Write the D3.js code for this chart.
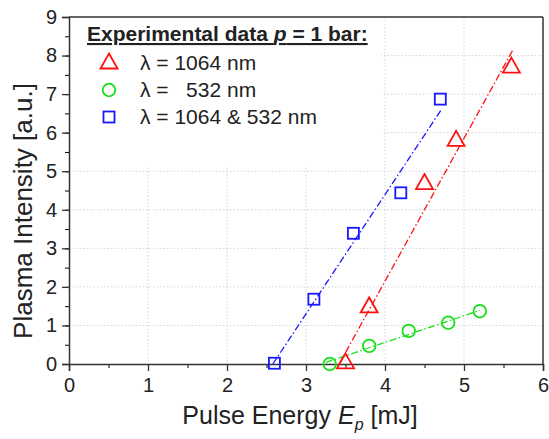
<!DOCTYPE html>
<html>
<head>
<meta charset="utf-8">
<script src="https://cdn.jsdelivr.net/npm/d3@7"></script>
<style>
    body { margin: 0; background: #fff; }
    svg { font-family: "Liberation Sans", Arial, sans-serif; }
</style>
</head>
<body>
<div id="chart"></div>
<script>
// data
const xTicks = [0, 1, 2, 3, 4, 5, 6];
const yTicks = [0, 1, 2, 3, 4, 5, 6, 7, 8, 9];

const energy1064 = [3.5, 3.8, 4.5, 4.9, 5.6];
const intensity1064 = [0.03, 1.48, 4.68, 5.8, 7.7];
const energy532 = [3.3, 3.8, 4.3, 4.8, 5.2];
const intensity532 = [0.0, 0.47, 0.86, 1.07, 1.37];
const energyBoth = [2.6, 3.1, 3.6, 4.2, 4.7];
const intensityBoth = [0.02, 1.68, 3.39, 4.44, 6.87];

// linear fit endpoints (as drawn in the picture)
const fit1064 = [[3.42, 0], [5.62, 8.15]];
const fit532 = [[3.25, 0.04], [5.2, 1.39]];
const fitBoth = [[2.58, 0], [4.72, 6.62]];

const seriesNames = ['λ = 1064 nm', 'λ =   532 nm', 'λ = 1064 & 532 nm'];
const seriesColors = ['#ff1010', '#18e018', '#1818ff'];
const seriesShapes = ['triangle', 'circle', 'square'];

let width = 549,
    height = 439,
    margin = {top: 17, right: 6, bottom: 75, left: 69};

let chartWidth = width - margin.left - margin.right,
    chartHeight = height - margin.top - margin.bottom;

let svg = d3.select('#chart').append('svg')
    .attr('width', width)
    .attr('height', height);

let g = svg.append('g')
    .attr('transform', `translate(${margin.left}, ${margin.top})`);

let scaleX = d3.scaleLinear().domain([0, 6]).range([0, chartWidth]);
let scaleY = d3.scaleLinear().domain([0, 9]).range([chartHeight, 0]);

// gridlines
g.append('g')
    .selectAll('line')
    .data(xTicks.slice(1, -1))
    .enter()
    .append('line')
    .attr('x1', (d) => scaleX(d)).attr('x2', (d) => scaleX(d))
    .attr('y1', 0).attr('y2', chartHeight)
    .attr('stroke', '#d4d4d4').attr('stroke-dasharray', '1.5,2');

g.append('g')
    .selectAll('line')
    .data(yTicks.slice(1, -1))
    .enter()
    .append('line')
    .attr('y1', (d) => scaleY(d)).attr('y2', (d) => scaleY(d))
    .attr('x1', 0).attr('x2', chartWidth)
    .attr('stroke', '#d4d4d4').attr('stroke-dasharray', '1.5,2');

// legend background hides the grid behind it
g.append('rect')
    .attr('x', 1).attr('y', 1)
    .attr('width', 311).attr('height', 148)
    .attr('fill', '#fff');

// axes: minor ticks first, then majors with labels
let minorX = d3.range(0, 6.01, 0.5), minorY = d3.range(0, 9.01, 0.5);

g.append('g')
    .attr('transform', `translate(0, ${chartHeight})`)
    .call(d3.axisBottom(scaleX).tickValues(minorX).tickSize(4).tickFormat(''))
    .call((a) => a.select('.domain').remove());
g.append('g')
    .call(d3.axisLeft(scaleY).tickValues(minorY).tickSize(4).tickFormat(''))
    .call((a) => a.select('.domain').remove());

let xAxis = g.append('g')
    .attr('transform', `translate(0, ${chartHeight})`)
    .call(d3.axisBottom(scaleX).tickValues(xTicks).tickSize(7).tickPadding(7).tickFormat(d3.format('d')));
let yAxis = g.append('g')
    .call(d3.axisLeft(scaleY).tickValues(yTicks).tickSize(7).tickPadding(5).tickFormat(d3.format('d')));

[xAxis, yAxis].forEach((a) => {
    a.selectAll('text').attr('font-size', 20).attr('fill', '#222')
        .attr('font-family', '"Liberation Sans", Arial, sans-serif');
    a.selectAll('line').attr('stroke', '#333').attr('stroke-width', 1.3);
    a.select('.domain').attr('stroke', '#333').attr('stroke-width', 1.5);
});

// frame top and right
g.append('line').attr('x1', 0).attr('x2', chartWidth).attr('y1', 0).attr('y2', 0)
    .attr('stroke', '#333').attr('stroke-width', 1.5);
g.append('line').attr('x1', chartWidth).attr('x2', chartWidth).attr('y1', 0).attr('y2', chartHeight)
    .attr('stroke', '#333').attr('stroke-width', 1.5);

// fit lines
let fits = [fit1064, fit532, fitBoth];
let line = d3.line().x((d) => scaleX(d[0])).y((d) => scaleY(d[1]));
fits.forEach((f, i) => {
    g.append('path')
        .attr('d', line(f))
        .attr('fill', 'none')
        .attr('stroke', seriesColors[i])
        .attr('stroke-width', 1.3)
        .attr('stroke-dasharray', '7,2.5,1.5,2.5');
});

// markers
function marker(sel, shape, color) {
    if (shape === 'triangle') {
        sel.append('path').attr('d', 'M0,-9.5L8.5,5.5L-8.5,5.5Z');
    } else if (shape === 'circle') {
        sel.append('circle').attr('r', 6.3);
    } else {
        sel.append('rect').attr('x', -5.5).attr('y', -5.5).attr('width', 11).attr('height', 11);
    }
    sel.selectAll('path, circle, rect')
        .attr('fill', 'none')
        .attr('stroke', color)
        .attr('stroke-width', 1.8);
}

let series = [
    [energy1064, intensity1064],
    [energy532, intensity532],
    [energyBoth, intensityBoth]
];

series.forEach((s, i) => {
    s[0].forEach((x, j) => {
        let m = g.append('g')
            .attr('transform', `translate(${scaleX(x)}, ${scaleY(s[1][j])})`);
        marker(m, seriesShapes[i], seriesColors[i]);
    });
});

// legend
let legend = g.append('g').attr('fill', '#222');
let title = legend.append('text')
    .attr('x', 18).attr('y', 24)
    .attr('font-size', 21).attr('font-weight', 'bold')
    .attr('text-decoration', 'underline');
title.append('tspan').text('Experimental data ');
title.append('tspan').attr('font-style', 'italic').text('p');
title.append('tspan').text(' = 1 bar:');

seriesNames.forEach((name, i) => {
    let row = legend.append('g').attr('transform', `translate(0, ${46 + 27 * i})`);
    let m = row.append('g').attr('transform', 'translate(40, 0)');
    marker(m, seriesShapes[i], seriesColors[i]);
    row.append('text')
        .attr('x', 71).attr('y', 7)
        .attr('font-size', 21)
        .attr('xml:space', 'preserve')
        .style('white-space', 'pre')
        .text(name);
});

// axis titles
let xTitle = svg.append('text')
    .attr('x', 300)
    .attr('y', 424)
    .attr('text-anchor', 'middle')
    .attr('font-size', 25)
    .attr('fill', '#222');
xTitle.append('tspan').text('Pulse Energy ');
xTitle.append('tspan').attr('font-style', 'italic').text('E');
xTitle.append('tspan').attr('font-style', 'italic').attr('font-size', 16).attr('dy', 6).text('p');
xTitle.append('tspan').attr('dy', -6).text(' [mJ]');

svg.append('text')
    .attr('transform', 'translate(32, 211) rotate(-90)')
    .attr('text-anchor', 'middle')
    .attr('font-size', 26)
    .attr('fill', '#222')
    .text('Plasma Intensity [a.u.]');
</script>
</body>
</html>
